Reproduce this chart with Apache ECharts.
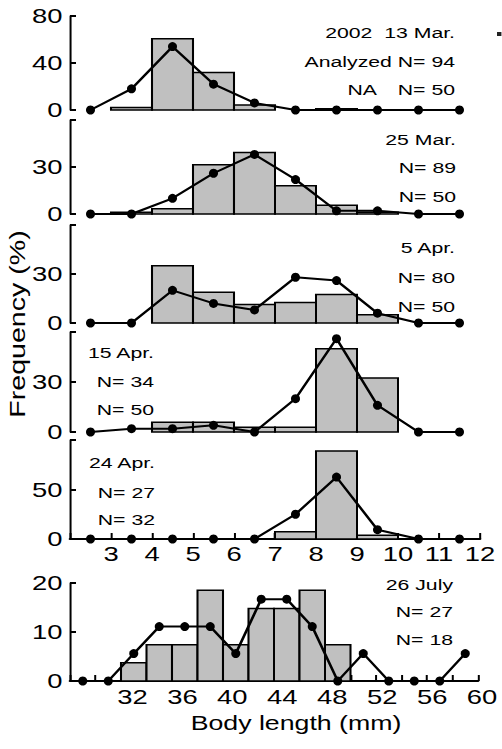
<!DOCTYPE html>
<html>
<head>
<meta charset="utf-8">
<script src="https://cdn.jsdelivr.net/npm/echarts@6/dist/echarts.min.js"></script>
<style>
html, body { margin: 0; padding: 0; background: #fff; }
#wrap { width: 502px; height: 749px; overflow: hidden; }
#chart { height: 749px; transform-origin: 0 0; }
</style>
</head>
<body>
<div id="wrap"><div id="chart"></div></div>
<script>
// the lettering of the original figure is stretched sideways, so the whole
// drawing is stretched with css and round things are squeezed back
var S = 1.37;
var FONT = '"Liberation Sans", Arial, sans-serif';

// body length (mm), spring samples: bin left edges (width 1) and net sample mids
var binSpring = [3, 4, 5, 6, 7, 8, 9, 10];
var midSpring = [2.5, 3.5, 4.5, 5.5, 6.5, 7.5, 8.5, 9.5, 10.5, 11.5];

// analyzed (bars) and NA (dots), frequency %
var bar13Mar = [2.1, 60.6, 31.9, 4.3, 0, 1.1, 0, 0];
var na13Mar  = [0, 18, 54, 22, 6, 0, 0, 0, 0, 0];
var bar25Mar = [1.1, 3.4, 31.5, 39.3, 18.0, 5.6, 1.1, 0];
var na25Mar  = [0, 0, 10, 26, 38, 22, 2, 2, 0, 0];
var bar5Apr  = [0, 35, 18.8, 11.3, 12.5, 17.5, 5, 0];
var na5Apr   = [0, 0, 20, 12, 8, 28, 26, 6, 0, 0];
var bar15Apr = [0, 5.9, 5.9, 2.9, 2.9, 50, 32.4, 0];
var na15Apr  = [0, 2, 2, 4, 0, 20, 56, 16, 0, 0];
var bar24Apr = [0, 0, 0, 0, 7.4, 88.9, 3.7, 0];
var na24Apr  = [0, 0, 0, 0, 0, 25, 62.5, 9.4, 0, 0];

// july sample: bin left edges (width 2) and dot positions
var binJuly = [31, 33, 35, 37, 39, 41, 43, 45, 47];
var midJuly = [28, 30, 32, 34, 36, 38, 40, 42, 44, 46, 48, 50, 52, 54, 56, 58];
var bar26Jul = [3.7, 7.4, 7.4, 18.5, 7.4, 14.8, 14.8, 18.5, 7.4];
var na26Jul  = [0, 0, 5.6, 11.1, 11.1, 11.1, 5.6, 16.7, 16.7, 11.1, 0, 5.6, 0, 0, 0, 5.6];

var labels = [
  [['2002  13 Mar.', 'Analyzed N= 94', 'N= 50'], 455, [33, 62, 90], 'right'],
  [['25 Mar.', 'N= 89', 'N= 50'], 456, [140, 168, 197], 'right'],
  [['5 Apr.', 'N= 80', 'N= 50'], 455, [248, 278, 307], 'right'],
  [['15 Apr.', 'N= 34', 'N= 50'], 154, [353, 382, 410], 'right'],
  [['24 Apr.', 'N= 27', 'N= 32'], 155, [463, 493, 520], 'right'],
  [['26 July', 'N= 27', 'N= 18'], 453, [585, 612, 640], 'right']
];

var panels = [
  { top: 16,  h: 94,  max: 80,  step: 40, topLabel: true,  bars: bar13Mar, dots: na13Mar },
  { top: 120, h: 94,  max: 60,  step: 30, topLabel: false, bars: bar25Mar, dots: na25Mar },
  { top: 225, h: 98,  max: 60,  step: 30, topLabel: false, bars: bar5Apr,  dots: na5Apr },
  { top: 332, h: 100, max: 60,  step: 30, topLabel: false, bars: bar15Apr, dots: na15Apr },
  { top: 440, h: 99,  max: 100, step: 50, topLabel: false, bars: bar24Apr, dots: na24Apr },
  { top: 583, h: 98,  max: 20,  step: 10, topLabel: true,  bars: bar26Jul, dots: na26Jul }
];

var el = document.getElementById('chart');
el.style.width = (502 / S) + 'px';
el.style.transform = 'scaleX(' + S + ')';
var chart = echarts.init(el, null, { renderer: 'svg' });

var LEFT = 70 / S;
var TICKFONT = 20;
var grid = [], xAxis = [], yAxis = [], series = [];

function histItem(params, api) {
  var v = api.value(2);
  if (!v) return;
  var a = api.coord([api.value(0), v]);
  var b = api.coord([api.value(1), 0]);
  return {
    type: 'rect',
    shape: { x: a[0], y: a[1], width: b[0] - a[0], height: b[1] - a[1] },
    style: { fill: '#c0c0c0', stroke: '#000', lineWidth: 1.5 }
  };
}

panels.forEach(function (p, i) {
  var july = i === 5;
  grid.push({ left: LEFT, top: p.top, width: (july ? 408 : 410) / S, height: p.h });
  var ax = { gridIndex: i, type: 'value', splitLine: { show: false } };
  if (july) {
    ax.min = 27; ax.max = 59; ax.interval = 2;
  } else {
    ax.min = 2; ax.max = 12; ax.interval = 1;
  }
  if (i < 4) {
    ax.show = false;
  } else {
    ax.axisLine = { lineStyle: { color: '#000', width: 2 } };
    ax.axisTick = { inside: true, length: 6, lineStyle: { color: '#000', width: 2 / S } };
    ax.axisLabel = july ? { show: false } : {
      color: '#000', fontSize: TICKFONT, fontFamily: FONT, margin: 5,
      formatter: function (v) { return v === 2 ? '' : v; }
    };
  }
  xAxis.push(ax);
  yAxis.push({
    gridIndex: i, type: 'value', min: 0, max: p.max, interval: p.step,
    splitLine: { show: false },
    axisLine: { show: true, lineStyle: { color: '#000', width: 2 / S } },
    axisTick: { show: true, inside: true, length: 6 / S, lineStyle: { color: '#000', width: 2 } },
    axisLabel: {
      color: '#000', fontSize: TICKFONT, fontFamily: FONT, margin: 5.5,
      formatter: function (v) { return (v === p.max && !p.topLabel) ? '' : v; }
    }
  });
  var bins = july ? binJuly : binSpring;
  var w = july ? 2 : 1;
  var mids = july ? midJuly : midSpring;
  series.push({
    type: 'custom', xAxisIndex: i, yAxisIndex: i, z: 2, clip: false,
    renderItem: histItem,
    data: bins.map(function (b, k) { return [b, b + w, p.bars[k]]; })
  });
  series.push({
    type: 'line', xAxisIndex: i, yAxisIndex: i, z: 3, clip: false,
    symbol: 'circle', symbolSize: [9 / S, 9],
    lineStyle: { color: '#000', width: 2 },
    itemStyle: { color: '#000' },
    data: mids.map(function (m, k) { return [m, p.dots[k]]; })
  });
});

// second axis under the july panel, only for its even-numbered labels
grid.push({ left: LEFT, top: 583, width: 420.75 / S, height: 98 });
xAxis.push({
  gridIndex: 6, type: 'value', min: 27, max: 60, interval: 1,
  splitLine: { show: false }, axisLine: { show: false }, axisTick: { show: false },
  axisLabel: {
    color: '#000', fontSize: TICKFONT, fontFamily: FONT, margin: 6,
    formatter: function (v) { return (v >= 32 && v % 4 === 0) ? v : ''; }
  }
});
yAxis.push({ gridIndex: 6, type: 'value', min: 0, max: 20, show: false });

function txt(x, y, s, align, size) {
  return {
    type: 'text', x: x / S, y: y, z: 10,
    style: {
      text: s, fill: '#000', fontSize: size || 15.5, fontFamily: FONT,
      textAlign: align, align: align, textVerticalAlign: 'middle', verticalAlign: 'middle'
    }
  };
}

var graphic = [];
labels.forEach(function (g, i) {
  g[0].forEach(function (s, k) {
    if (i === 0 && k === 2) {
      graphic.push(txt(377, g[2][k], 'NA', g[3]));
    }
    graphic.push(txt(g[1], g[2][k], s, g[3]));
  });
});
graphic.push(txt(296, 723, 'Body length (mm)', 'center', 19.5));
graphic.push({
  type: 'text', x: 17 / S, y: 324, rotation: Math.PI / 2, scaleX: 1.3, scaleY: 1 / S,
  style: {
    text: 'Frequency (%)', fill: '#000', fontSize: 22, fontFamily: FONT,
    textAlign: 'center', align: 'center', textVerticalAlign: 'middle', verticalAlign: 'middle'
  }
});
graphic.push({ type: 'rect', shape: { x: 497 / S, y: 32, width: 5 / S, height: 4 }, style: { fill: '#222' } });

chart.setOption({
  animation: false,
  grid: grid,
  xAxis: xAxis,
  yAxis: yAxis,
  series: series,
  graphic: graphic
});
</script>
</body>
</html>
